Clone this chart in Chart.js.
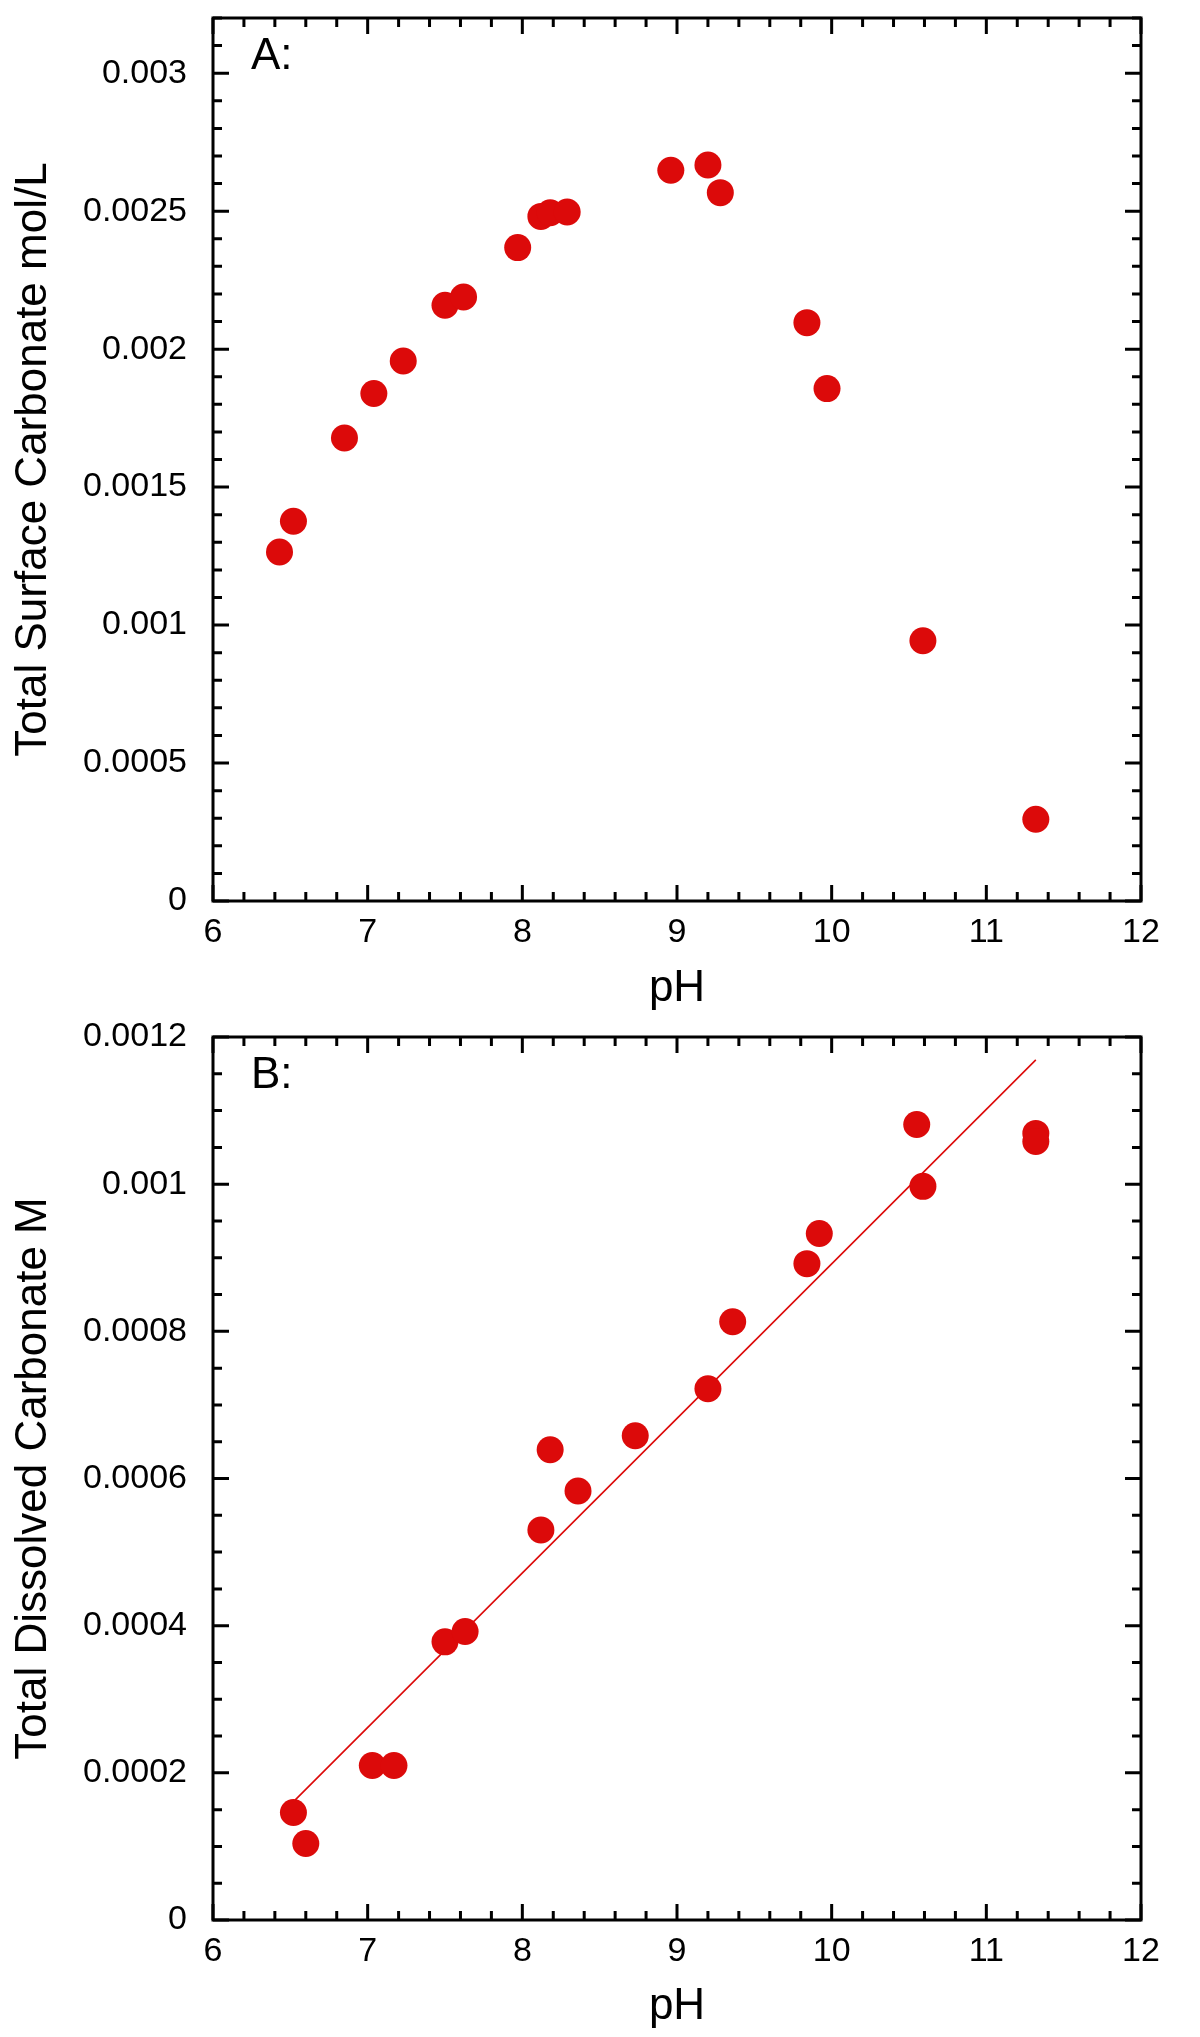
<!DOCTYPE html>
<html>
<head>
<meta charset="utf-8">
<script src="https://cdn.jsdelivr.net/npm/chart.js@4.4.1/dist/chart.umd.min.js"></script>
<style>
  html, body { margin: 0; padding: 0; background: #fff; }
  canvas { display: block; }
</style>
</head>
<body>
<canvas id="chartA" width="1200" height="1019"></canvas>
<canvas id="chartB" width="1200" height="1018"></canvas>
<script>
// Panel A: total surface carbonate vs pH
const phA = [6.43, 6.52, 6.85, 7.04, 7.23, 7.50, 7.62, 7.97, 8.12, 8.18, 8.29, 8.96, 9.20, 9.28, 9.84, 9.97, 10.59, 11.32];
const surfaceCarb = [0.001265, 0.001376, 0.001678, 0.001839, 0.001957, 0.002159, 0.002189, 0.002368, 0.002481, 0.002494,
                     0.002497, 0.002648, 0.002667, 0.002567, 0.002096, 0.001857, 0.000943, 0.000296];

// Panel B: total dissolved carbonate vs pH, plus fitted line
const phB = [6.52, 6.60, 7.03, 7.17, 7.50, 7.63, 8.12, 8.18, 8.36, 8.73, 9.20, 9.36, 9.84, 9.92, 10.55, 10.59, 11.32, 11.32];
const dissolvedCarb = [0.000146, 0.000104, 0.000210, 0.000210, 0.000378, 0.000392, 0.000530, 0.000639, 0.000583, 0.000658,
                       0.000722, 0.000813, 0.000892, 0.000933, 0.001081, 0.000997, 0.001069, 0.001058];
const fitPh = [6.53, 11.32];
const fitCarb = [0.000163, 0.001169];

// axis ticks
const phTicks = [6, 7, 8, 9, 10, 11, 12];
const yTicksA = [0, 0.0005, 0.001, 0.0015, 0.002, 0.0025, 0.003];
const yTicksB = [0, 0.0002, 0.0004, 0.0006, 0.0008, 0.001, 0.0012];

const RED = "#dc0a0a";
const FONT = "'Liberation Sans', Arial, sans-serif";
Chart.defaults.font.family = FONT;
Chart.defaults.color = "#000";

const toXY = (xs, ys) => xs.map((x, i) => ({ x, y: ys[i] }));

// frame + inward ticks on all four sides, plus the panel letter
const frameTicks = {
  id: "frameTicks",
  afterDraw(chart, args, opts) {
    const { ctx, chartArea: a, scales: { x, y } } = chart;
    ctx.save();
    ctx.strokeStyle = "#000";
    ctx.lineWidth = 3;
    ctx.strokeRect(a.left, a.top, a.right - a.left, a.bottom - a.top);

    ctx.beginPath();
    const nx = Math.round((x.max - x.min) / opts.xMinor);
    for (let i = 0; i <= nx; i++) {
      const px = x.getPixelForValue(x.min + i * opts.xMinor);
      const len = i % opts.xPer === 0 ? 16 : 9;
      ctx.moveTo(px, a.bottom); ctx.lineTo(px, a.bottom - len);
      ctx.moveTo(px, a.top); ctx.lineTo(px, a.top + len);
    }
    const ny = Math.round((y.max - y.min) / opts.yMinor);
    for (let i = 0; i <= ny; i++) {
      const py = y.getPixelForValue(y.min + i * opts.yMinor);
      const len = i % opts.yPer === 0 ? 16 : 9;
      ctx.moveTo(a.left, py); ctx.lineTo(a.left + len, py);
      ctx.moveTo(a.right, py); ctx.lineTo(a.right - len, py);
    }
    ctx.stroke();

    ctx.fillStyle = "#000";
    ctx.font = "44px " + FONT;
    ctx.textBaseline = "alphabetic";
    ctx.fillText(opts.letter, a.left + 38, a.top + 51);
    ctx.restore();
  }
};

function makePanel(id, datasets, yMax, yTicks, yTitle, axisH, opts) {
  return new Chart(document.getElementById(id), {
    type: "scatter",
    data: { datasets },
    options: {
      responsive: false,
      animation: false,
      devicePixelRatio: 1,
      layout: { padding: { top: 18, right: 59, left: 0, bottom: 0 } },
      plugins: { legend: { display: false }, tooltip: { enabled: false }, frameTicks: opts },
      scales: {
        x: {
          type: "linear", min: 6, max: 12, bounds: "data",
          grid: { display: false, drawTicks: false },
          border: { display: false },
          afterBuildTicks: s => { s.ticks = phTicks.map(v => ({ value: v })); },
          afterFit: s => { s.height = axisH; s.paddingLeft = 0; s.paddingRight = 0; },
          ticks: { font: { size: 34 }, padding: 11, maxRotation: 0, callback: v => String(v) },
          title: { display: true, text: "pH", font: { size: 44 }, padding: { top: 0, bottom: 4 } }
        },
        y: {
          type: "linear", min: 0, max: yMax, bounds: "data",
          grid: { display: false, drawTicks: false },
          border: { display: false },
          afterBuildTicks: s => { s.ticks = yTicks.map(v => ({ value: v })); },
          afterFit: s => { s.width = 213; s.paddingTop = 0; s.paddingBottom = 0; },
          ticks: { font: { size: 34 }, padding: 26, callback: v => String(v) },
          title: { display: true, text: yTitle, font: { size: 44 }, padding: { top: 7, bottom: 0 } }
        }
      }
    },
    plugins: [frameTicks]
  });
}

makePanel("chartA", [
  { data: toXY(phA, surfaceCarb), backgroundColor: RED, borderWidth: 0, pointRadius: 13.5 }
], 0.0032, yTicksA, "Total Surface Carbonate mol/L", 118,
  { letter: "A:", xMinor: 0.2, xPer: 5, yMinor: 0.0001, yPer: 5 });

makePanel("chartB", [
  { data: toXY(phB, dissolvedCarb), backgroundColor: RED, borderWidth: 0, pointRadius: 13.5 },
  { data: toXY(fitPh, fitCarb), showLine: true, borderColor: RED, borderWidth: 1.6, pointRadius: 0 }
], 0.0012, yTicksB, "Total Dissolved Carbonate M", 117,
  { letter: "B:", xMinor: 0.2, xPer: 5, yMinor: 0.00005, yPer: 4 });
</script>
</body>
</html>
